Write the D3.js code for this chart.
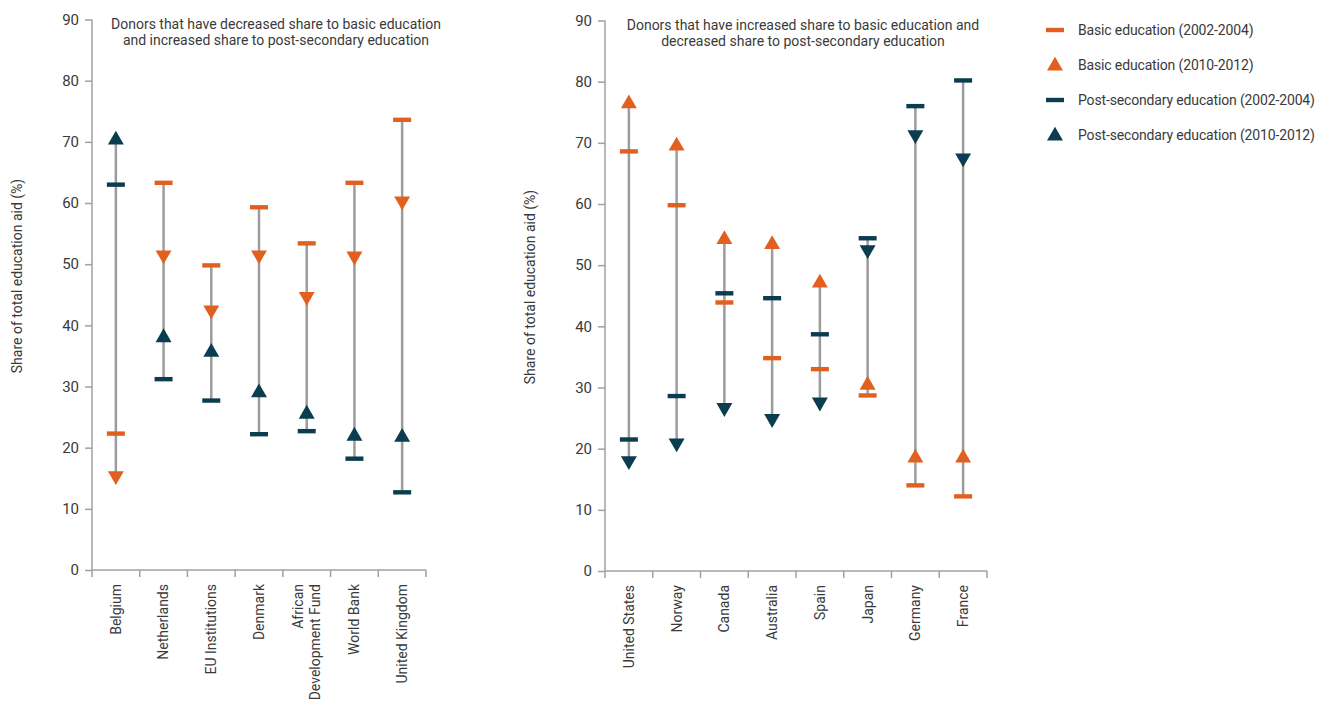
<!DOCTYPE html>
<html><head><meta charset="utf-8">
<script src="https://cdn.jsdelivr.net/npm/d3@7"></script>
<style>body{margin:0;background:#fff;} text{font-family:Roboto, "Open Sans", sans-serif;}</style>
</head><body>
<svg id="chart" width="1325" height="702"></svg>
<script>
// ---- data ----
const leftCategories = ["Belgium","Netherlands","EU Institutions","Denmark","African\nDevelopment Fund","World Bank","United Kingdom"];
const leftBasic0204 = [22.3, 63.3, 49.8, 59.3, 53.4, 63.3, 73.6];
const leftBasic1012 = [15.4, 51.5, 42.5, 51.5, 44.7, 51.3, 60.3];
const leftPost0204  = [63.0, 31.2, 27.7, 22.2, 22.7, 18.2, 12.7];
const leftPost1012  = [70.3, 38.0, 35.6, 29.0, 25.5, 21.9, 21.7];

const rightCategories = ["United States","Norway","Canada","Australia","Spain","Japan","Germany","France"];
const rightBasic0204 = [68.6, 59.8, 43.9, 34.8, 33.0, 28.7, 14.0, 12.2];
const rightBasic1012 = [76.4, 69.5, 54.2, 53.4, 47.1, 30.4, 18.5, 18.5];
const rightPost0204  = [21.5, 28.6, 45.4, 44.6, 38.7, 54.4, 76.0, 80.2];
const rightPost1012  = [18.0, 20.9, 26.7, 24.9, 27.6, 52.5, 71.3, 67.5];

const yTicks = [0,10,20,30,40,50,60,70,80,90];
const leftTitle = ["Donors that have decreased share to basic education","and increased share to post-secondary education"];
const rightTitle = ["Donors that have increased share to basic education and","decreased share to post-secondary education"];
const yLabel = "Share of total education aid (%)";
const legendLabels = ["Basic education (2002-2004)","Basic education (2010-2012)","Post-secondary education (2002-2004)","Post-secondary education (2010-2012)"];

const ORANGE = "#E2601F", TEAL = "#0A3D4F", GRAY = "#9c9c9c", AXIS = "#a0a0a0", TXT = "#3a3a3a";

const svg = d3.select("#chart");

function panel(opts){
  const {x0, x1, y0, y1, cats, b0, b1, p0, p1, title, titleX, labelX, labelY} = opts;
  const g = svg.append("g");
  const y = d3.scaleLinear().domain([0,90]).range([y0,y1]);
  const x = d3.scaleBand().domain(cats).range([x0,x1]);
  // y axis
  const ya = g.append("g").attr("transform",`translate(${x0},0)`)
    .call(d3.axisLeft(y).tickValues(yTicks).tickSize(7).tickPadding(6));
  ya.select(".domain").attr("stroke",AXIS).attr("stroke-width",1.5).attr("d",`M-0,${y1}V${y0}`);
  ya.selectAll(".tick line").attr("stroke",AXIS).attr("stroke-width",1.5);
  ya.selectAll(".tick text").attr("fill",TXT).style("font-size","15px");
  // x axis
  const xa = g.append("g").attr("transform",`translate(0,${y0})`)
    .call(d3.axisBottom(x).tickSize(0).tickFormat(""));
  xa.select(".domain").attr("stroke",AXIS).attr("stroke-width",1.5).attr("d",`M${x0},0H${x1}`);
  const bounds = cats.map(c=>x(c)).concat([x1]);
  xa.selectAll(".bt").data(bounds).enter().append("line")
    .attr("x1",d=>d).attr("x2",d=>d).attr("y1",0).attr("y2",7)
    .attr("stroke",AXIS).attr("stroke-width",1.5);
  // x labels
  cats.forEach(c=>{
    const lines = c.split("\n");
    const cx = x(c)+x.bandwidth()/2;
    const t = g.append("text")
      .attr("transform",`translate(${cx},${y0+14}) rotate(-90)`)
      .attr("text-anchor","end").attr("fill",TXT).style("font-size","14px");
    lines.forEach((l,i)=>{
      t.append("tspan").attr("x",0).attr("dy", i===0 ? (lines.length===1? "0.35em" : "-0.25em") : "1.2em").text(l);
    });
  });
  // y label
  g.append("text").attr("transform",`translate(${labelX},${labelY}) rotate(-90)`)
    .attr("text-anchor","middle").attr("fill",TXT).style("font-size","14px").text(yLabel);
  // title
  g.append("text").attr("x",titleX).attr("y",y1+9).attr("text-anchor","middle")
    .attr("fill",TXT).style("font-size","14px")
    .selectAll("tspan").data(title).enter().append("tspan")
    .attr("x",titleX).attr("dy",(d,i)=>i? "16px":"0").text(d=>d);
  // vertical lines
  const rows = cats.map((c,i)=>({c, b0:b0[i], b1:b1[i], p0:p0[i], p1:p1[i]}));
  g.selectAll(".vl").data(rows).enter().append("line")
    .attr("x1",d=>x(d.c)+x.bandwidth()/2).attr("x2",d=>x(d.c)+x.bandwidth()/2)
    .attr("y1",d=>y(d3.min([d.b0,d.b1,d.p0,d.p1])))
    .attr("y2",d=>y(d3.max([d.b0,d.b1,d.p0,d.p1])))
    .attr("stroke",GRAY).attr("stroke-width",2.5);
  // dashes
  function dash(key,color){
    g.selectAll(".d"+key).data(rows).enter().append("rect")
      .attr("x",d=>x(d.c)+x.bandwidth()/2-9).attr("y",d=>y(d[key])-2.2)
      .attr("width",18).attr("height",4.4).attr("fill",color);
  }
  dash("b0",ORANGE); dash("p0",TEAL);
  // triangles
  const tri = d3.symbol().type(d3.symbolTriangle).size(110);
  function triangles(key,startKey,color){
    g.selectAll(".t"+key).data(rows).enter().append("path")
      .attr("d",tri)
      .attr("transform",d=>{
        const up = d[key] >= d[startKey];
        return `translate(${x(d.c)+x.bandwidth()/2},${y(d[key])}) rotate(${up?0:180})`;
      })
      .attr("fill",color);
  }
  triangles("b1","b0",ORANGE); triangles("p1","p0",TEAL);
}

panel({x0:92, x1:426, y0:570, y1:19.5, cats:leftCategories, b0:leftBasic0204, b1:leftBasic1012,
  p0:leftPost0204, p1:leftPost1012, title:leftTitle, titleX:276, labelX:22, labelY:276});
panel({x0:605, x1:987, y0:571, y1:20.5, cats:rightCategories, b0:rightBasic0204, b1:rightBasic1012,
  p0:rightPost0204, p1:rightPost1012, title:rightTitle, titleX:803, labelX:535, labelY:287});

// legend
const leg = svg.append("g");
const legColors = [ORANGE, ORANGE, TEAL, TEAL];
const legShapes = ["dash","tri","dash","tri"];
legendLabels.forEach((l,i)=>{
  const cy = 30 + i*35;
  if(legShapes[i]==="dash"){
    leg.append("rect").attr("x",1046).attr("y",cy-2.2).attr("width",18).attr("height",4.4).attr("fill",legColors[i]);
  } else {
    leg.append("path").attr("d",d3.symbol().type(d3.symbolTriangle).size(110)())
      .attr("transform",`translate(1055,${cy+1})`).attr("fill",legColors[i]);
  }
  leg.append("text").attr("x",1078).attr("y",cy).attr("dy","0.35em").attr("fill",TXT)
    .style("font-size","14px").style("letter-spacing","-0.15px").text(l);
});
</script>
</body></html>
